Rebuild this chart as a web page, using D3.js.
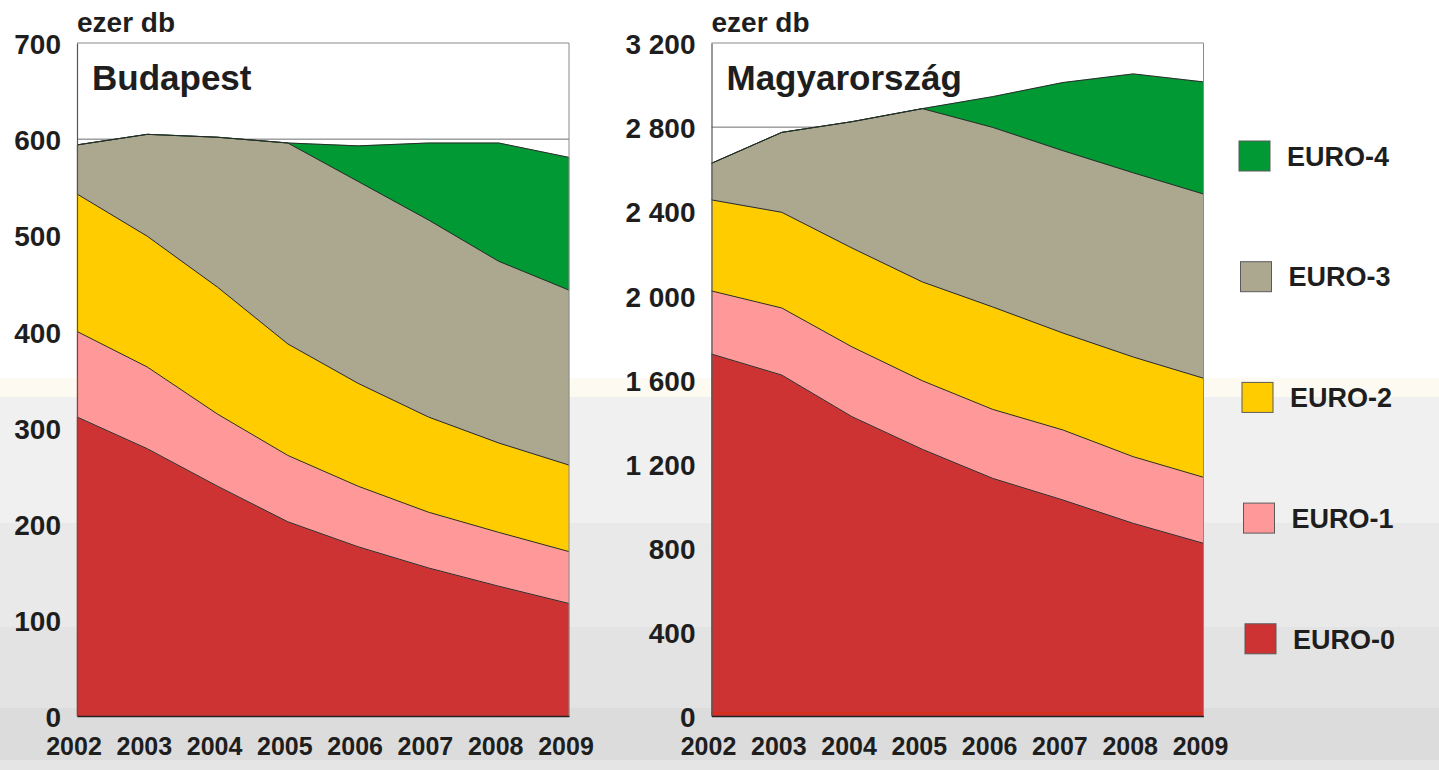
<!DOCTYPE html>
<html>
<head>
<meta charset="utf-8">
<script src="https://cdn.jsdelivr.net/npm/d3@7/dist/d3.min.js"></script>
<style>
  html, body { margin: 0; padding: 0; background: #fff; }
  svg { display: block; }
  text { font-family: "Liberation Sans", Arial, sans-serif; font-weight: bold; fill: #1e1e1e; }
</style>
</head>
<body>
<svg id="chart" width="1439" height="770"></svg>
<script>
// ---------- data (ezer db) ----------
const years = [2002, 2003, 2004, 2005, 2006, 2007, 2008, 2009];
const seriesNames = ["EURO-0", "EURO-1", "EURO-2", "EURO-3", "EURO-4"];
const seriesColors = ["#cd3333", "#ff9999", "#ffcc00", "#aca78f", "#009933"];

// Budapest
const bpEuro0 = [311, 278, 239, 202, 176, 154, 135, 117];
const bpEuro1 = [89, 85, 75, 69, 63, 58, 56, 54];
const bpEuro2 = [143, 136, 132, 116, 107, 99, 93, 90];
const bpEuro3 = [51, 106, 156, 209, 210, 205, 189, 182];
const bpEuro4 = [0, 0, 0, 0, 37, 80, 123, 138];

// Magyarország
const huEuro0 = [1721, 1621, 1423, 1268, 1130, 1027, 916, 821];
const huEuro1 = [300, 319, 332, 326, 328, 333, 317, 314];
const huEuro2 = [433, 455, 470, 470, 487, 461, 474, 471];
const huEuro3 = [174, 380, 601, 824, 854, 867, 876, 876];
const huEuro4 = [0, 0, 0, 0, 146, 324, 470, 533];
const huBaseLine = [15, 15, 15, 15, 15, 15, 15, 15];

const bpTicks = [0, 100, 200, 300, 400, 500, 600, 700];
const huTicks = [0, 400, 800, 1200, 1600, 2000, 2400, 2800, 3200];

const unitLabel = "ezer db";
const bpTitle = "Budapest";
const huTitle = "Magyarország";

// ---------- drawing ----------
const svg = d3.select("#chart");
const W = 1439, H = 770;

// background bands
const bands = [
  [0, 378, "#ffffff"], [378, 397, "#fdfaf1"], [397, 523, "#f0f0f0"],
  [523, 627, "#e9e9e9"], [627, 708, "#e3e3e3"], [708, 760, "#dcdcdc"], [760, 770, "#e5e5e5"]
];
svg.selectAll("rect.band").data(bands).join("rect")
  .attr("x", 0).attr("width", W)
  .attr("y", d => d[0]).attr("height", d => d[1] - d[0])
  .attr("fill", d => d[2]);

const huFormat = d3.formatLocale({ decimal: ",", thousands: " ", grouping: [3], currency: ["", ""] }).format(",d");

function panel(cfg) {
  const { x0, x1, yTop, yBot, max, ticks, fmt, series, title, baseLine } = cfg;
  const g = svg.append("g");
  const x = d3.scalePoint().domain(years).range([x0, x1]);
  const y = d3.scaleLinear().domain([0, max]).range([yBot, yTop]);

  // plot background
  g.append("rect").attr("x", x0).attr("y", yTop).attr("width", x1 - x0).attr("height", yBot - yTop).attr("fill", "#fff");

  // gridlines
  g.selectAll("line.grid").data(ticks.filter(t => t > 0 && t < max)).join("line")
    .attr("x1", x0).attr("x2", x1).attr("y1", d => y(d)).attr("y2", d => y(d))
    .attr("stroke", "#6e6e6e").attr("stroke-width", 1);

  // stack
  const rows = years.map((yr, i) => {
    const r = { year: yr };
    seriesNames.forEach((n, k) => r[n] = series[k][i]);
    return r;
  });
  const stack = d3.stack().keys(seriesNames)(rows);
  const area = d3.area().x(d => x(d.data.year)).y0(d => y(d[0])).y1(d => y(d[1]));
  const line = d3.line().x(d => x(d.data.year)).y(d => y(d[1]));

  g.selectAll("path.area").data(stack).join("path")
    .attr("d", area).attr("fill", (d, i) => seriesColors[i]).attr("stroke", (d, i) => seriesColors[i]).attr("stroke-width", 0.5);
  g.selectAll("path.edge").data(stack).join("path")
    .attr("d", line).attr("fill", "none").attr("stroke", "#2a2a2a").attr("stroke-width", 1);

  if (baseLine) {
    g.append("path").datum(years.map((yr, i) => ({ year: yr, v: baseLine[i] })))
      .attr("d", d3.line().x(d => x(d.year)).y(d => y(d.v)))
      .attr("fill", "none").attr("stroke", "#d92e14").attr("stroke-width", 1.5);
  }

  // frame: top and right border
  g.append("path").attr("d", `M${x0},${yTop}H${x1}V${yBot}`).attr("fill", "none").attr("stroke", "#8a8a8a").attr("stroke-width", 1);

  // y axis
  const ya = d3.axisLeft(y).tickValues(ticks).tickFormat(fmt).tickSize(0).tickPadding(16);
  const yg = g.append("g").attr("transform", `translate(${x0},0)`).call(ya);
  yg.select(".domain").attr("stroke", "#555").attr("stroke-width", 1.2);
  yg.selectAll("text").attr("font-size", 28).attr("fill", "#1e1e1e")
    .attr("font-family", '"Liberation Sans", Arial, sans-serif').attr("font-weight", "bold").attr("dy", "0.38em");

  // x axis
  const xa = d3.axisBottom(x).tickSize(0).tickPadding(0);
  const xg = g.append("g").attr("transform", `translate(0,${yBot})`).call(xa);
  xg.select(".domain").attr("stroke", "#222").attr("stroke-width", 1.5);
  xg.selectAll("text").attr("font-size", 25).attr("fill", "#1e1e1e").attr("dx", -3.5)
    .attr("font-family", '"Liberation Sans", Arial, sans-serif').attr("font-weight", "bold")
    .attr("y", 39).attr("dy", 0);

  // unit label and title
  g.append("text").attr("x", x0).attr("y", 32).attr("font-size", 28).text(unitLabel);
  g.append("text").attr("x", x0 + 15).attr("y", 90).attr("font-size", 35).text(title);
}

panel({ x0: 77, x1: 569, yTop: 43, yBot: 716, max: 700, ticks: bpTicks, fmt: d3.format("d"),
  series: [bpEuro0, bpEuro1, bpEuro2, bpEuro3, bpEuro4], title: bpTitle });
panel({ x0: 711.5, x1: 1203.5, yTop: 43, yBot: 716, max: 3200, ticks: huTicks, fmt: huFormat,
  series: [huEuro0, huEuro1, huEuro2, huEuro3, huEuro4], title: huTitle, baseLine: huBaseLine });

// legend (top to bottom: EURO-4 ... EURO-0)
const legendItems = seriesNames.map((n, i) => ({ name: n, color: seriesColors[i], idx: i })).reverse();
const lg = svg.append("g");
const li = lg.selectAll("g").data(legendItems).join("g")
  .attr("transform", (d, j) => `translate(${1239 + j * 1.5},${156 + j * 120.7})`);
li.append("rect").attr("x", 0).attr("y", -15).attr("width", 31).attr("height", 30)
  .attr("fill", d => d.color).attr("stroke", "#5a5a5a").attr("stroke-width", 1);
li.append("text").attr("x", 48).attr("y", 0).attr("dy", "0.36em").attr("font-size", 27).text(d => d.name);
</script>
</body>
</html>
